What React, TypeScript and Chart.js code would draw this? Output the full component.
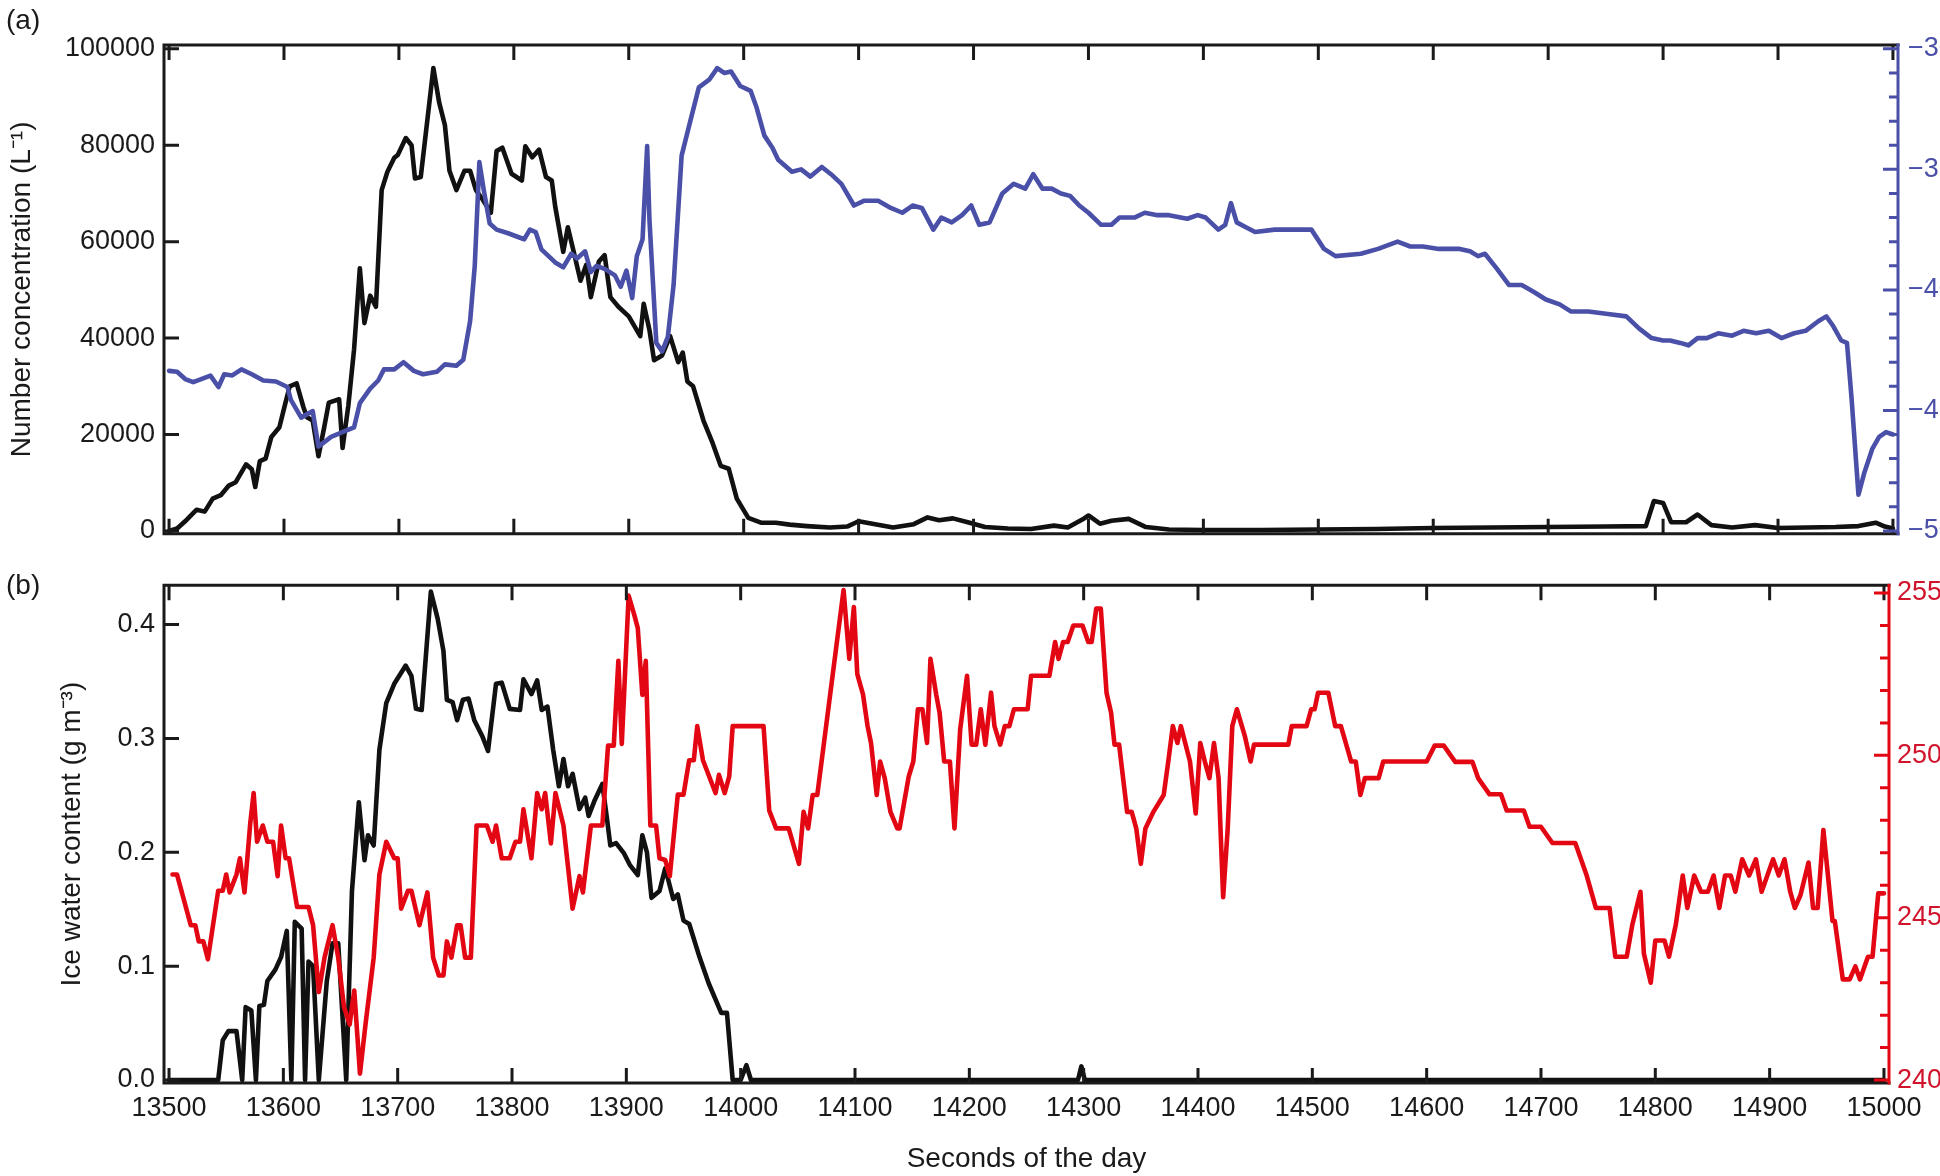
import React, { useEffect, useRef } from 'react';
import { Chart, registerables } from 'chart.js';

Chart.register(...registerables);

const FONT = '"Liberation Sans", Arial, Helvetica, sans-serif';
const INK = '#1a1a1a';
const BLUE = '#4a50a8';
const RED = '#e30613';
const RED_TEXT = '#d0142c';

// axis ticks
const secondTicks = [13500, 13600, 13700, 13800, 13900, 14000, 14100, 14200, 14300, 14400, 14500, 14600, 14700, 14800, 14900, 15000];
const concTicks = [0, 20000, 40000, 60000, 80000, 100000];
const iwcTicks = [0, 0.1, 0.2, 0.3, 0.4];
const tempATicks = [-50, -45, -40, -35, -30];
const tempAMinor = [-50, -49, -48, -47, -46, -45, -44, -43, -42, -41, -40, -39, -38, -37, -36, -35, -34, -33, -32, -31, -30];
const tempBTicks = [240, 245, 250, 255];
const tempBMinor = [240, 241, 242, 243, 244, 245, 246, 247, 248, 249, 250, 251, 252, 253, 254, 255];

// (a) number concentration, L^-1
const concTime = [
  13500, 13507, 13514, 13524, 13531, 13538, 13545, 13552, 13558, 13567,
  13572, 13575, 13579, 13584, 13589, 13596, 13601, 13605, 13611, 13617,
  13620, 13625, 13630, 13635, 13639, 13648, 13651, 13656, 13661, 13666,
  13670, 13675, 13680, 13685, 13690, 13696, 13699, 13706, 13711, 13714,
  13719, 13730, 13735, 13740, 13744, 13750, 13757, 13762, 13767, 13773,
  13780, 13785, 13790, 13798, 13807, 13810, 13816, 13822, 13828, 13833,
  13836, 13843, 13847, 13852, 13858, 13863, 13867, 13874, 13879, 13884,
  13891, 13900, 13910, 13913, 13918, 13922, 13929, 13936, 13943, 13947,
  13951, 13956, 13965, 13973, 13980, 13987, 13994, 14004, 14015, 14028,
  14040, 14055, 14075, 14090, 14100, 14112, 14130, 14148, 14160, 14170,
  14182, 14195, 14210, 14230, 14250, 14270, 14282, 14295, 14300, 14310,
  14320, 14335, 14350, 14370, 14400, 14450, 14500, 14550, 14600, 14650,
  14700, 14750, 14785, 14792, 14800, 14807, 14820, 14830, 14842, 14860,
  14880, 14900, 14950, 14970, 14985, 14993, 15000,
];
const concValue = [
  0, 500, 2000, 4400, 4000, 6700, 7400, 9400, 10100, 13800,
  12800, 9100, 14500, 15000, 19500, 21500, 26300, 30000, 30600, 25600,
  23600, 22900, 15500, 21500, 26600, 27300, 17200, 26000, 37700, 54500,
  43100, 48800, 46500, 70700, 74500, 77400, 78000, 81500, 80000, 73100,
  73400, 96000, 88900, 84200, 74700, 70700, 74700, 74700, 70700, 68700,
  66000, 78800, 79500, 74100, 72700, 79800, 77500, 79100, 73400, 72700,
  67300, 57900, 63000, 58000, 51900, 55200, 48500, 55900, 57200, 48500,
  46500, 44500, 40400, 47100, 41700, 35400, 36400, 40400, 35000, 37000,
  31000, 30000, 22900, 18200, 13500, 12900, 6700, 2700, 1700, 1700,
  1300, 1000, 700, 900, 2000, 1500, 700, 1400, 2800, 2200,
  2600, 1800, 800, 500, 400, 1100, 700, 2400, 3200, 1500,
  2100, 2500, 800, 300, 200, 200, 300, 400, 600, 700,
  800, 900, 1000, 6200, 5800, 1800, 1800, 3400, 1200, 700,
  1200, 600, 800, 1000, 1700, 900, 500,
];

// (a) temperature, degC (right axis)
const tempATime = [
  13500, 13507, 13514, 13521, 13528, 13536, 13543, 13548, 13555, 13563,
  13572, 13582, 13593, 13603, 13606, 13615, 13625, 13630, 13641, 13654,
  13661, 13666, 13675, 13682, 13687, 13696, 13704, 13713, 13721, 13733,
  13740, 13750, 13756, 13762, 13766, 13770, 13774, 13779, 13785, 13795,
  13809, 13814, 13819, 13824, 13836, 13843, 13850, 13855, 13862, 13867,
  13872, 13879, 13888, 13893, 13898, 13903, 13907, 13912, 13916, 13918,
  13924, 13929, 13934, 13939, 13946, 13953, 13961, 13970, 13977, 13983,
  13989, 13997, 14006, 14011, 14018, 14025, 14030, 14042, 14050, 14058,
  14068, 14076, 14085, 14096, 14105, 14117, 14128, 14138, 14147, 14155,
  14165, 14172, 14181, 14190, 14198, 14205, 14214, 14225, 14235, 14245,
  14252, 14260, 14268, 14276, 14284, 14292, 14300, 14311, 14320, 14327,
  14340, 14349, 14360, 14370, 14386, 14395, 14402, 14413, 14419, 14424,
  14429, 14437, 14445, 14462, 14494, 14505, 14515, 14537, 14552, 14569,
  14580, 14591, 14605, 14623, 14632, 14639, 14645, 14655, 14666, 14677,
  14688, 14698, 14710, 14720, 14735, 14752, 14768, 14779, 14790, 14800,
  14806, 14815, 14822, 14830, 14838, 14848, 14860, 14870, 14881, 14892,
  14903, 14914, 14924, 14935, 14942, 14948, 14955, 14960, 14964, 14970,
  14975, 14982, 14988, 14994, 15000,
];
const tempAValue = [
  -43.36, -43.4, -43.7, -43.83, -43.7, -43.56, -44.03, -43.5, -43.55, -43.3,
  -43.5, -43.76, -43.8, -44.03, -44.56, -45.3, -45.03, -46.5, -46.1, -45.84,
  -45.7, -44.7, -44.1, -43.76, -43.3, -43.3, -43.0, -43.36, -43.5, -43.4,
  -43.09, -43.15, -42.9, -41.28, -39.0, -34.7, -35.9, -37.25, -37.5, -37.65,
  -37.9, -37.5, -37.6, -38.32, -38.86, -39.06, -38.5, -38.7, -38.4, -39.26,
  -39.0, -39.13, -39.4, -39.87, -39.2, -40.34, -38.6, -37.9, -34.03, -37.1,
  -42.2, -42.55, -41.95, -39.8, -34.43, -33.1, -31.6, -31.28, -30.8, -31.0,
  -30.94, -31.54, -31.74, -32.4, -33.6, -34.1, -34.6, -35.1, -35.0, -35.3,
  -34.9, -35.2, -35.6, -36.5, -36.3, -36.3, -36.6, -36.8, -36.5, -36.6,
  -37.5, -37.0, -37.2, -36.9, -36.5, -37.3, -37.2, -36.0, -35.6, -35.8,
  -35.2, -35.8, -35.8, -36.0, -36.1, -36.5, -36.8, -37.3, -37.3, -37.0,
  -37.0, -36.8, -36.9, -36.9, -37.05, -36.9, -37.0, -37.5, -37.3, -36.4,
  -37.2, -37.4, -37.6, -37.5, -37.5, -38.3, -38.6, -38.5, -38.3, -38.0,
  -38.2, -38.2, -38.3, -38.3, -38.4, -38.6, -38.5, -39.1, -39.8, -39.8,
  -40.1, -40.4, -40.6, -40.9, -40.9, -41.0, -41.1, -41.6, -42.0, -42.1,
  -42.1, -42.2, -42.3, -42.0, -42.0, -41.8, -41.9, -41.7, -41.8, -41.7,
  -42.0, -41.8, -41.7, -41.3, -41.1, -41.5, -42.1, -42.2, -44.5, -48.5,
  -47.6, -46.6, -46.1, -45.9, -46.0,
];

// (b) ice water content, g m^-3
const iwcTime = [
  13500, 13543, 13547, 13552, 13559, 13564, 13567, 13572, 13576, 13579,
  13583, 13586, 13593, 13598, 13603, 13607, 13610, 13616, 13619, 13622,
  13626, 13631, 13638, 13643, 13648, 13655, 13660, 13666, 13671, 13674,
  13679, 13684, 13690, 13697, 13707, 13712, 13716, 13721, 13729, 13735,
  13740, 13743, 13748, 13752, 13757, 13762, 13767, 13774, 13779, 13786,
  13791, 13798, 13807, 13810, 13817, 13822, 13826, 13831, 13836, 13841,
  13845, 13849, 13853, 13859, 13864, 13867, 13872, 13879, 13883, 13886,
  13891, 13898, 13903, 13910, 13914, 13918, 13922, 13929, 13934, 13941,
  13945, 13950, 13955, 13964, 13972, 13983, 13988, 13993, 14000, 14005,
  14009, 14295, 14298, 14301, 15000,
];
const iwcValue = [
  0, 0, 0.035, 0.043, 0.043, 0, 0.064, 0.061, 0, 0.065,
  0.066, 0.087, 0.097, 0.108, 0.131, 0, 0.139, 0.133, 0, 0.104,
  0.1, 0, 0.087, 0.12, 0.12, 0, 0.166, 0.244, 0.193, 0.215,
  0.206, 0.29, 0.331, 0.348, 0.364, 0.355, 0.326, 0.325, 0.429, 0.405,
  0.377, 0.334, 0.332, 0.316, 0.334, 0.335, 0.316, 0.302, 0.289, 0.348,
  0.349, 0.326, 0.325, 0.352, 0.339, 0.351, 0.325, 0.328, 0.29, 0.258,
  0.282, 0.258, 0.269, 0.238, 0.248, 0.232, 0.245, 0.26, 0.23, 0.206,
  0.208, 0.199, 0.189, 0.18, 0.215, 0.2, 0.16, 0.166, 0.186, 0.159,
  0.163, 0.14, 0.137, 0.108, 0.085, 0.059, 0.059, 0, 0, 0.013,
  0, 0, 0.012, 0, 0,
];

// (b) temperature, K (right axis)
const tempBTime = [
  13503, 13507, 13519, 13523, 13526, 13530, 13534, 13543, 13547, 13550,
  13553, 13559, 13562, 13566, 13571, 13574, 13577, 13582, 13586, 13591,
  13595, 13598, 13602, 13605, 13612, 13622, 13626, 13631, 13636, 13643,
  13648, 13653, 13658, 13662, 13667, 13672, 13679, 13684, 13690, 13697,
  13700, 13703, 13709, 13712, 13719, 13726, 13731, 13736, 13740, 13743,
  13747, 13752, 13755, 13759, 13764, 13769, 13778, 13783, 13786, 13791,
  13798, 13803, 13807, 13810, 13817, 13822, 13826, 13829, 13834, 13838,
  13845, 13853, 13859, 13862, 13869, 13879, 13884, 13889, 13893, 13896,
  13902, 13907, 13910, 13914, 13917, 13921, 13926, 13929, 13934, 13938,
  13945, 13950, 13955, 13959, 13962, 13967, 13978, 13981, 13986, 13990,
  13993, 14020, 14025, 14031, 14042, 14051, 14055, 14059, 14063, 14067,
  14090, 14095, 14099, 14102, 14107, 14111, 14114, 14119, 14122, 14126,
  14131, 14137, 14139, 14147, 14151, 14155, 14159, 14163, 14166, 14171,
  14174, 14178, 14183, 14187, 14192, 14198, 14202, 14206, 14210, 14214,
  14219, 14222, 14227, 14231, 14235, 14239, 14251, 14254, 14270, 14275,
  14278, 14282, 14286, 14291, 14299, 14304, 14307, 14311, 14315, 14320,
  14324, 14327, 14331, 14338, 14342, 14346, 14350, 14354, 14361, 14370,
  14374, 14378, 14382, 14385, 14393, 14398, 14402, 14406, 14410, 14414,
  14418, 14422, 14426, 14430, 14434, 14441, 14446, 14449, 14479, 14482,
  14495, 14499, 14502, 14505, 14514, 14520, 14525, 14534, 14538, 14542,
  14546, 14558, 14562, 14600, 14607, 14615, 14625, 14640, 14645, 14655,
  14665, 14670, 14685, 14690, 14700, 14710, 14730, 14740, 14748, 14760,
  14765, 14775, 14780, 14787, 14790, 14796, 14800, 14808, 14812, 14818,
  14824, 14828, 14834, 14840, 14846, 14851, 14856, 14861, 14866, 14870,
  14876, 14882, 14888, 14893, 14898, 14903, 14908, 14913, 14918, 14922,
  14927, 14934, 14938, 14942, 14947, 14955, 14957, 14964, 14970, 14975,
  14979, 14986, 14990, 14995, 15000,
];
const tempBValue = [
  246.33, 246.33, 244.77, 244.77, 244.27, 244.27, 243.72, 245.83, 245.83, 246.33,
  245.78, 246.33, 246.83, 245.78, 247.89, 248.84, 247.34, 247.84, 247.34, 247.34,
  246.28, 247.84, 246.83, 246.83, 245.33, 245.33, 244.77, 242.71, 243.77, 244.77,
  243.77, 242.26, 241.71, 242.76, 240.2, 241.76, 243.77, 246.33, 247.34, 246.83,
  246.83, 245.28, 245.83, 245.83, 244.77, 245.78, 243.77, 243.22, 243.22, 244.27,
  243.77, 244.77, 244.77, 243.77, 243.77, 247.84, 247.84, 247.34, 247.84, 246.83,
  246.83, 247.34, 247.34, 248.34, 246.83, 248.84, 248.34, 248.84, 247.29, 248.84,
  247.84, 245.28, 246.28, 245.78, 247.84, 247.84, 250.3, 250.3, 252.91, 250.35,
  254.92, 254.32, 253.92, 251.86, 252.91, 247.84, 247.84, 246.83, 246.78, 246.28,
  248.79, 248.79, 249.85, 249.85, 250.9, 249.85, 248.84, 249.4, 248.84, 249.35,
  250.9, 250.9, 248.3, 247.75, 247.75, 246.66, 248.26, 247.75, 248.78, 248.78,
  255.09, 252.97, 254.57, 252.5, 251.88, 250.9, 250.38, 248.78, 249.81, 249.3,
  248.26, 247.75, 247.75, 249.35, 249.81, 251.42, 251.42, 250.38, 252.97, 251.88,
  251.31, 249.81, 249.81, 247.75, 250.8, 252.45, 250.33, 250.33, 251.42, 250.33,
  251.93, 250.9, 250.33, 250.9, 250.9, 251.42, 251.42, 252.45, 252.45, 253.49,
  252.97, 253.49, 253.49, 254.0, 254.0, 253.49, 253.49, 254.52, 254.52, 251.93,
  251.31, 250.33, 250.33, 248.26, 248.26, 247.75, 246.66, 247.75, 248.26, 248.78,
  249.81, 250.9, 250.38, 250.9, 249.81, 248.21, 250.38, 249.81, 249.3, 250.38,
  249.3, 245.63, 247.75, 250.9, 251.42, 250.59, 249.81, 250.33, 250.33, 250.9,
  250.9, 251.42, 251.42, 251.93, 251.93, 250.9, 250.9, 249.81, 249.81, 248.78,
  249.3, 249.3, 249.81, 249.81, 250.3, 250.3, 249.8, 249.8, 249.3, 248.8,
  248.8, 248.3, 248.3, 247.8, 247.8, 247.3, 247.3, 246.3, 245.3, 245.3,
  243.8, 243.8, 244.8, 245.8, 243.9, 243.0, 244.3, 244.3, 243.8, 244.8,
  246.3, 245.3, 246.3, 245.8, 245.8, 246.3, 245.3, 246.3, 246.3, 245.8,
  246.8, 246.3, 246.8, 245.8, 246.3, 246.8, 246.3, 246.8, 245.8, 245.3,
  245.7, 246.7, 245.3, 245.3, 247.7, 244.9, 244.9, 243.1, 243.1, 243.5,
  243.1, 243.8, 243.8, 245.75, 245.75,
];

const toPoints = (xs: number[], ys: number[]) => xs.map((x, i) => ({ x, y: ys[i] }));

interface FrameCfg {
  xTicks: number[];
  leftTicks: number[];
  rightTicks: number[];
  rightMinor: number[];
  rightColor: string;
  label: string;
  labelY: number;
}

// box, inward ticks and panel letter
const makeFrame = (f: FrameCfg) => ({
  id: 'frame',
  afterDatasetsDraw(chart: any) {
    const { ctx, chartArea: a, scales } = chart;
    const len = 15;
    ctx.save();
    ctx.lineWidth = 3;
    ctx.strokeStyle = INK;
    ctx.beginPath();
    f.xTicks.forEach((v) => {
      const px = scales.x.getPixelForValue(v);
      ctx.moveTo(px, a.bottom);
      ctx.lineTo(px, a.bottom - len);
      ctx.moveTo(px, a.top);
      ctx.lineTo(px, a.top + len);
    });
    f.leftTicks.forEach((v) => {
      const py = scales.y.getPixelForValue(v);
      ctx.moveTo(a.left, py);
      ctx.lineTo(a.left + len, py);
    });
    ctx.stroke();

    ctx.lineCap = 'square';
    ctx.beginPath();
    ctx.moveTo(a.right, a.top);
    ctx.lineTo(a.left, a.top);
    ctx.lineTo(a.left, a.bottom);
    ctx.lineTo(a.right, a.bottom);
    ctx.stroke();

    ctx.lineCap = 'butt';
    ctx.strokeStyle = f.rightColor;
    ctx.beginPath();
    f.rightMinor.forEach((v) => {
      const py = scales.y2.getPixelForValue(v);
      const l = f.rightTicks.includes(v) ? 15 : 9;
      ctx.moveTo(a.right, py);
      ctx.lineTo(a.right - l, py);
    });
    ctx.moveTo(a.right, a.top - 1.5);
    ctx.lineTo(a.right, a.bottom + 1.5);
    ctx.stroke();

    ctx.fillStyle = INK;
    ctx.font = `28px ${FONT}`;
    ctx.textBaseline = 'middle';
    ctx.textAlign = 'left';
    ctx.fillText(f.label, 6, f.labelY);
    ctx.restore();
  },
});

interface PanelProps {
  top: number;
  height: number;
  areaTop: number;
  rightWidth: number;
  xHeight: number;
  showX: boolean;
  black: { x: number; y: number }[];
  colored: { x: number; y: number }[];
  color: string;
  textColor: string;
  yMin: number;
  yMax: number;
  yTicks: number[];
  yFormat: (v: number) => string;
  yTitle: string;
  yTitlePad: number;
  y2Min: number;
  y2Max: number;
  y2Ticks: number[];
  y2Minor: number[];
  y2Format: (v: number) => string;
  y2Pad: number;
  label: string;
  labelY: number;
}

const tickFont = { family: FONT, size: 27 };
const titleFont = { family: FONT, size: 28 };

const Panel: React.FC<PanelProps> = (p) => {
  const canvasRef = useRef<HTMLCanvasElement>(null);

  useEffect(() => {
    if (!canvasRef.current) return;
    const lineStyle = { borderWidth: 4.6, pointRadius: 0, tension: 0, borderJoinStyle: 'round', borderCapStyle: 'round' };
    const chart = new Chart(canvasRef.current, {
      type: 'line',
      data: {
        datasets: [
          { ...lineStyle, data: p.colored, yAxisID: 'y2', borderColor: p.color, order: 1 },
          { ...lineStyle, data: p.black, yAxisID: 'y', borderColor: '#111111', order: 2 },
        ],
      },
      options: {
        animation: false,
        responsive: true,
        maintainAspectRatio: false,
        layout: { padding: { top: p.areaTop, left: 0, right: 0, bottom: 0 } },
        plugins: { legend: { display: false }, tooltip: { enabled: false } },
        scales: {
          x: {
            type: 'linear',
            min: 13495.6,
            max: 15004.4,
            grid: { display: false, drawTicks: false },
            border: { display: false },
            afterBuildTicks: (axis: any) => {
              axis.ticks = secondTicks.map((value) => ({ value }));
            },
            afterFit: (axis: any) => {
              axis.height = p.xHeight;
            },
            ticks: {
              display: p.showX,
              color: INK,
              font: tickFont,
              padding: 9,
              maxRotation: 0,
              autoSkip: false,
              callback: (v: any) => String(v),
            },
            title: {
              display: p.showX,
              text: 'Seconds of the day',
              color: INK,
              font: titleFont,
              padding: { top: 0, bottom: 0 },
            },
          },
          y: {
            type: 'linear',
            position: 'left',
            min: p.yMin,
            max: p.yMax,
            grid: { display: false, drawTicks: false },
            border: { display: false },
            afterBuildTicks: (axis: any) => {
              axis.ticks = p.yTicks.map((value) => ({ value }));
            },
            afterFit: (axis: any) => {
              axis.width = 164;
            },
            ticks: { color: INK, font: tickFont, padding: 9, callback: (v: any) => p.yFormat(Number(v)) },
            title: {
              display: true,
              text: p.yTitle,
              color: INK,
              font: titleFont,
              padding: { top: p.yTitlePad, bottom: 0 },
            },
          },
          y2: {
            type: 'linear',
            position: 'right',
            min: p.y2Min,
            max: p.y2Max,
            grid: { display: false, drawTicks: false },
            border: { display: false },
            afterBuildTicks: (axis: any) => {
              axis.ticks = p.y2Ticks.map((value) => ({ value }));
            },
            afterFit: (axis: any) => {
              axis.width = p.rightWidth;
            },
            ticks: { color: p.textColor, font: tickFont, padding: p.y2Pad, callback: (v: any) => p.y2Format(Number(v)) },
          },
        },
      },
      plugins: [
        makeFrame({
          xTicks: secondTicks,
          leftTicks: p.yTicks,
          rightTicks: p.y2Ticks,
          rightMinor: p.y2Minor,
          rightColor: p.color,
          label: p.label,
          labelY: p.labelY,
        }),
      ],
    } as any);
    return () => chart.destroy();
  }, []);

  return (
    <div style={{ position: 'absolute', left: 0, top: p.top, width: 2000, height: p.height }}>
      <canvas ref={canvasRef} />
    </div>
  );
};

export default function App() {
  return (
    <div
      style={{
        position: 'fixed',
        left: 0,
        top: 0,
        width: 1940,
        height: 1176,
        overflow: 'hidden',
        background: '#ffffff',
      }}
    >
      <Panel
        top={0}
        height={560}
        areaTop={45}
        rightWidth={102}
        xHeight={8}
        showX={false}
        black={toPoints(concTime, concValue)}
        colored={toPoints(tempATime, tempAValue)}
        color={BLUE}
        textColor={BLUE}
        yMin={-600}
        yMax={100800}
        yTicks={concTicks}
        yFormat={(v) => String(v)}
        yTitle="Number concentration (L⁻¹)"
        yTitlePad={5}
        y2Min={-50.12}
        y2Max={-29.84}
        y2Ticks={tempATicks}
        y2Minor={tempAMinor}
        y2Format={(v) => String(v).replace('-', '\u2212')}
        y2Pad={10}
        label="(a)"
        labelY={21}
      />
      <Panel
        top={560}
        height={616}
        areaTop={17}
        rightWidth={111}
        xHeight={93}
        showX={true}
        black={toPoints(iwcTime, iwcValue)}
        colored={toPoints(tempBTime, tempBValue)}
        color={RED}
        textColor={RED_TEXT}
        yMin={-0.0026}
        yMax={0.4346}
        yTicks={iwcTicks}
        yFormat={(v) => v.toFixed(1)}
        yTitle="Ice water content (g m⁻³)"
        yTitlePad={55}
        y2Min={239.91}
        y2Max={255.24}
        y2Ticks={tempBTicks}
        y2Minor={tempBMinor}
        y2Format={(v) => String(v)}
        y2Pad={8}
        label="(b)"
        labelY={26}
      />
    </div>
  );
}
